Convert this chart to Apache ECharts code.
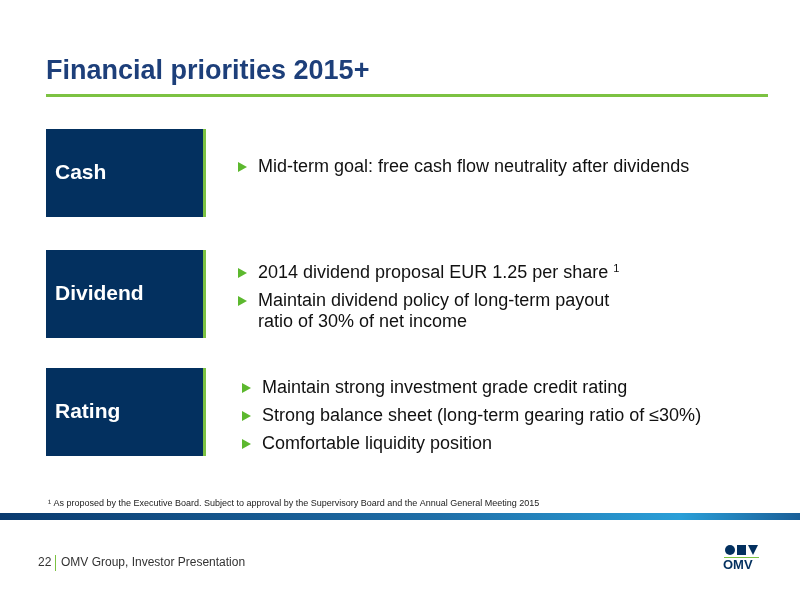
<!DOCTYPE html>
<html><head><meta charset="utf-8">
<script src="https://cdn.jsdelivr.net/npm/echarts@6/dist/echarts.min.js"></script>
<style>html,body{margin:0;padding:0;background:#fff}#c{width:800px;height:600px}</style>
</head><body><div id="c"></div>
<script>
const title = "Financial priorities 2015+";
const categories = ["Cash", "Dividend", "Rating"];
const bullets = [
  [["Mid-term goal: free cash flow neutrality after dividends"]],
  [["2014 dividend proposal EUR 1.25 per share {sup|1}"], ["Maintain dividend policy of long-term payout", "ratio of 30% of net income"]],
  [["Maintain strong investment grade credit rating"], ["Strong balance sheet (long-term gearing ratio of \u226430%)"], ["Comfortable liquidity position"]]
];
const footnote = "\u00B9 As proposed by the Executive Board. Subject to approval by the Supervisory Board and the Annual General Meeting 2015";
const footer = ["22", "OMV Group, Investor Presentation"];

const F = "Liberation Sans, Arial, sans-serif";
const boxTops = [129, 250, 368];
const boxH = 88;
const bulletStarts = [[167], [273, 301], [388, 416, 444]];
const bulletX = [238, 238, 242];
const els = [];
els.push({type:'text', left:46, top:58, style:{text:title, font:'bold 27px '+F, fill:'#1d3f7a'}});
els.push({type:'rect', shape:{x:46, y:94, width:722, height:3}, style:{fill:'#7cc242'}});
categories.forEach((c,i)=>{
  const y = boxTops[i];
  els.push({type:'rect', shape:{x:46,y:y,width:157,height:boxH}, style:{fill:'#03305f'}});
  els.push({type:'rect', shape:{x:203,y:y,width:3,height:boxH}, style:{fill:'#7cc242'}});
  els.push({type:'text', x:55, y:y+boxH/2, style:{text:c, font:'bold 21px '+F, fill:'#fff', verticalAlign:'middle'}});
  bullets[i].forEach((b,j)=>{
    const by = bulletStarts[i][j];
    const bx = bulletX[i];
    els.push({type:'polygon', shape:{points:[[bx,by-5],[bx,by+5],[bx+9,by]]}, style:{fill:'#5cb82e'}});
    els.push({type:'text', x:bx+20, y:by-10, style:{text:b.join('\n'), font:'18px '+F, fill:'#111', lineHeight:21,
      rich:{sup:{fontSize:11, verticalAlign:'top', padding:[0,0,10,0], fill:'#111'}}}});
  });
});
els.push({type:'text', x:48, y:499, style:{text:footnote, font:'9px '+F, fill:'#222'}});
els.push({type:'rect', shape:{x:0,y:513,width:800,height:7}, style:{fill:new echarts.graphic.LinearGradient(0,0,1,0,[{offset:0,color:'#0a3a6e'},{offset:0.55,color:'#1f6fa8'},{offset:0.85,color:'#2a9fd8'},{offset:1,color:'#1a5f98'}])}});
els.push({type:'text', x:38, y:557, style:{text:footer[0], font:'12px '+F, fill:'#333'}});
els.push({type:'rect', shape:{x:55,y:555,width:1,height:16}, style:{fill:'#7cc242'}});
els.push({type:'text', x:61, y:557, style:{text:footer[1], font:'12px '+F, fill:'#333'}});
// logo
els.push({type:'circle', shape:{cx:730,cy:550,r:5}, style:{fill:'#03305f'}});
els.push({type:'rect', shape:{x:737,y:545,width:9,height:10}, style:{fill:'#03305f'}});
els.push({type:'polygon', shape:{points:[[748,545],[758,545],[753,555]]}, style:{fill:'#03305f'}});
els.push({type:'rect', shape:{x:724,y:557,width:35,height:1}, style:{fill:'#7cc242'}});
els.push({type:'text', x:723, y:559, style:{text:'OMV', font:'bold 13px '+F, fill:'#03305f'}});
const chart = echarts.init(document.getElementById('c'));
chart.setOption({animation:false, graphic:els});
</script></body></html>
